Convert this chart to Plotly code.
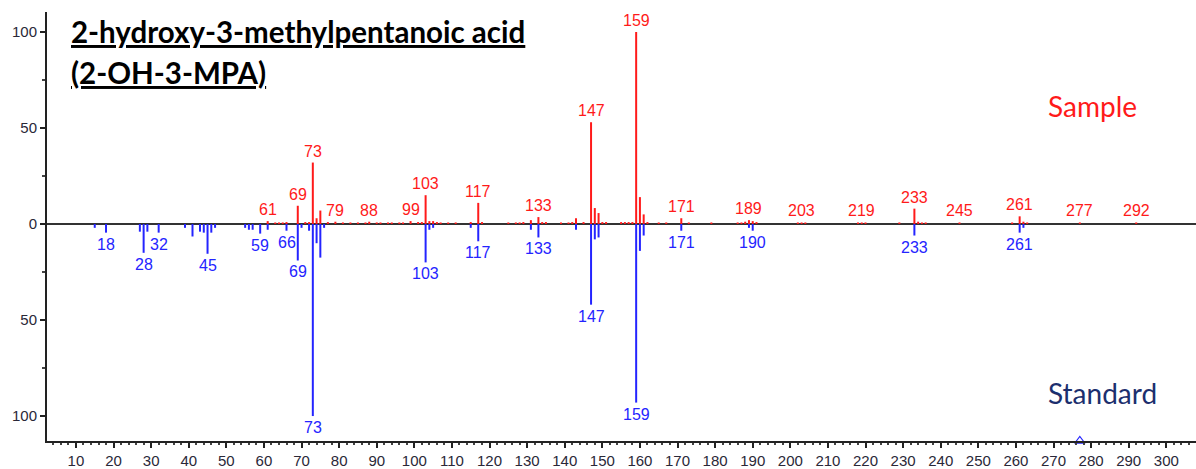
import plotly.graph_objects as go

# Sample spectrum (drawn upward): m/z and relative intensity (%)
sample_mz = [61, 63, 64, 65, 66, 69, 71, 72, 73, 74, 75, 77, 79, 81, 83, 85, 87, 88, 90, 91,
             93, 94, 96, 97, 99, 101, 102, 103, 104, 105, 106, 107, 109, 111, 115, 117, 118,
             125, 127, 128, 129, 131, 133, 134, 135, 139, 141, 142, 143, 145, 147, 148, 149,
             150, 151, 155, 156, 157, 158, 159, 160, 161, 162, 165, 167, 171, 173, 179, 186,
             187, 188, 189, 190, 191, 202, 203, 204, 218, 219, 220, 229, 233, 234, 235, 236,
             245, 259, 261, 262, 263, 277, 292]
sample_int = [1.5, 0.8, 0.8, 0.8, 1.0, 9.5, 1.0, 1.0, 32, 3.0, 7.0, 1.0, 1.2, 0.8, 0.8, 0.8, 0.8, 1.2, 0.8, 0.8,
              0.8, 0.8, 0.8, 0.8, 1.5, 1.0, 1.0, 15, 1.5, 1.5, 1.0, 0.8, 0.8, 0.8, 1.0, 11, 1.0,
              0.8, 0.8, 0.8, 1.0, 2.0, 3.6, 1.0, 1.0, 0.8, 0.8, 1.0, 3.0, 1.0, 53, 8.3, 5.7,
              1.0, 1.0, 1.0, 1.0, 1.0, 1.0, 100, 14, 5.0, 1.0, 0.8, 0.8, 3.0, 0.8, 0.8, 0.8,
              0.8, 1.2, 2.0, 1.5, 1.0, 0.8, 0.8, 0.8, 0.8, 0.8, 0.8, 0.8, 8.0, 1.2, 0.8, 0.8,
              0.8, 0.8, 4.0, 1.2, 0.8, 0.8, 0.8]
sample_labels = [61, 69, 73, 79, 88, 99, 103, 117, 133, 147, 159, 171, 189, 203, 219, 233,
                 245, 261, 277, 292]

# Standard spectrum (drawn downward): m/z and relative intensity (%)
standard_mz = [15, 18, 27, 28, 29, 32, 39, 41, 43, 44, 45, 46, 47, 55, 56, 57, 59, 61, 66,
               69, 70, 72, 73, 74, 75, 76, 103, 104, 105, 115, 117, 131, 133, 143, 147, 148,
               149, 159, 160, 161, 171, 189, 190, 233, 261, 262]
standard_int = [2.0, 4.5, 4.0, 15, 4.0, 4.5, 2.0, 6.5, 4.0, 4.5, 15.5, 4.5, 2.0, 2.0, 3.0, 3.0, 5.0, 3.0, 3.5,
                19, 2.0, 3.5, 100, 10, 17.5, 2.0, 20, 3.0, 2.0, 2.0, 9.0, 3.0, 7.0, 3.0, 42, 8.0,
                7.0, 93, 14, 6.0, 3.5, 2.0, 3.5, 6.0, 4.5, 2.0]
standard_labels = [18, 28, 32, 45, 59, 66, 69, 73, 103, 117, 133, 147, 159, 171, 190, 233, 261]

# Precursor marker on the m/z axis
marker_mz = [277]

y_ticks = [-100, -50, 0, 50, 100]
y_ticktext = ["100", "50", "0", "50", "100"]

RED = "#ff1a1a"
BLUE = "#2424ff"
NAVY = "#1c2f6e"
Y_MIN, Y_MAX = -113, 110.4


def stick_coords(mz, inten, sign):
    xs, ys = [], []
    for m, v in zip(mz, inten):
        xs += [m, m, None]
        ys += [0, sign * v, None]
    return xs, ys


fig = go.Figure()

sx, sy = stick_coords(sample_mz, sample_int, 1)
fig.add_trace(go.Scatter(x=sx, y=sy, mode="lines", line=dict(color=RED, width=2),
                         hoverinfo="skip", showlegend=False))
bx, by = stick_coords(standard_mz, standard_int, -1)
fig.add_trace(go.Scatter(x=bx, y=by, mode="lines", line=dict(color=BLUE, width=2),
                         hoverinfo="skip", showlegend=False))

# open triangle sitting on the m/z axis line
fig.add_trace(go.Scatter(x=marker_mz, y=[Y_MIN] * len(marker_mz), mode="markers",
                         marker=dict(symbol="triangle-up-open", size=9, color=BLUE,
                                     line=dict(width=1.2, color=BLUE)),
                         cliponaxis=False, hoverinfo="skip", showlegend=False))

label_font = dict(family="Liberation Sans, Arial, sans-serif", size=16)
sample_lookup = dict(zip(sample_mz, sample_int))
standard_lookup = dict(zip(standard_mz, standard_int))

for m in sample_labels:
    fig.add_annotation(x=m, y=sample_lookup.get(m, 0), text=str(m), showarrow=False,
                       yanchor="bottom", xanchor="center", yshift=1,
                       font=dict(color=RED, **label_font))
for m in standard_labels:
    fig.add_annotation(x=m, y=-standard_lookup.get(m, 0), text=str(m), showarrow=False,
                       yanchor="top", xanchor="center", yshift=-1,
                       font=dict(color=BLUE, **label_font))

title_font = dict(family="Lato, 'Open Sans', sans-serif", size=29.5, color="black")
fig.add_annotation(xref="paper", yref="paper", x=0.019, y=(441 - 32) / 429,
                   text="<b><u>2-hydroxy-3-methylpentanoic acid</u></b>", showarrow=False,
                   xanchor="left", yanchor="middle", font=title_font)
fig.add_annotation(xref="paper", yref="paper", x=0.019, y=(441 - 72) / 429,
                   text="<b><u>(2-OH-3-MPA)</u></b>", showarrow=False,
                   xanchor="left", yanchor="middle", font=title_font)

fig.add_annotation(xref="paper", yref="paper", x=(1092 - 47) / 1149, y=(441 - 106) / 429,
                   text="Sample", showarrow=False, xanchor="center", yanchor="middle",
                   font=dict(family="Lato, sans-serif", size=28, color=RED))
fig.add_annotation(xref="paper", yref="paper", x=(1102 - 47) / 1149, y=(441 - 393) / 429,
                   text="Standard", showarrow=False, xanchor="center", yanchor="middle",
                   font=dict(family="Lato, sans-serif", size=28, color=NAVY))

tick_font = dict(family="Liberation Sans, Arial, sans-serif", size=15, color="#2a2838")

fig.update_layout(
    width=1196, height=469,
    margin=dict(l=47, r=0, t=12, b=28),
    paper_bgcolor="white", plot_bgcolor="white",
    xaxis=dict(range=[2.3, 307.9], tick0=0, dtick=10, ticks="outside", ticklen=5,
               tickwidth=2, tickcolor="#222", showline=True, linecolor="#222", linewidth=2,
               showgrid=False, zeroline=False, tickfont=tick_font,
               minor=dict(dtick=2, tick0=0, ticks="outside", ticklen=2, tickwidth=1.5,
                          tickcolor="#444")),
    yaxis=dict(range=[Y_MIN, Y_MAX], tickvals=y_ticks, ticktext=y_ticktext, ticks="outside",
               ticklen=5, tickwidth=1.5, tickcolor="#222", showline=True, linecolor="#222",
               linewidth=2, showgrid=False, zeroline=True, zerolinecolor="#333",
               zerolinewidth=2, tickfont=tick_font,
               minor=dict(tickvals=[-75, -25, 25, 75], ticks="outside", ticklen=3,
                          tickwidth=1.5, tickcolor="#444")),
)

fig.write_html("out.html")
